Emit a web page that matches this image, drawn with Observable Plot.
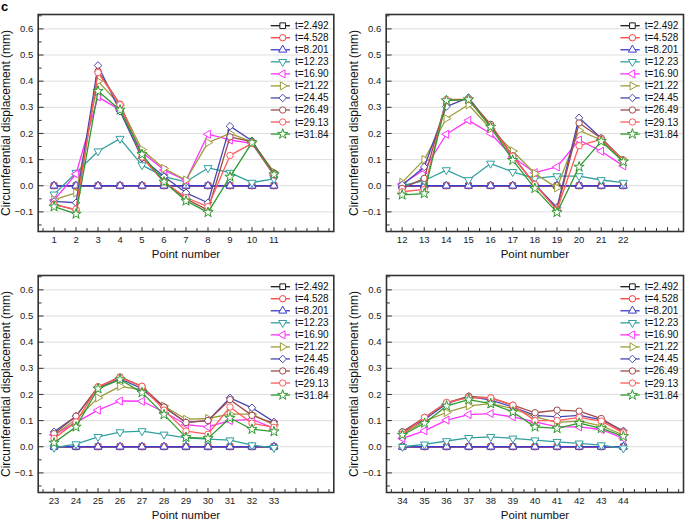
<!DOCTYPE html>
<html><head><meta charset="utf-8">
<script src="https://cdn.jsdelivr.net/npm/d3@7"></script>
<script src="https://cdn.jsdelivr.net/npm/@observablehq/plot@0.6"></script>
<style>
body{margin:0;background:#fff;}
#fig{position:relative;width:685px;height:523px;font-family:Arial,"Liberation Sans",sans-serif;overflow:hidden;}
.panel{position:absolute;}
#tag{position:absolute;left:1px;top:1px;font-weight:bold;font-size:13px;line-height:12px;color:#000;z-index:5;}
</style></head><body>
<div id="fig"><div id="tag">c</div></div>
<script>
// ---- series (legend) ----
const seriesNames = ["t=2.492","t=4.528","t=8.201","t=12.23","t=16.90","t=21.22","t=24.45","t=26.49","t=29.13","t=31.84"];

// ---- y tick labels ----
const yTickValues = [-0.1, 0.0, 0.1, 0.2, 0.3, 0.4, 0.5, 0.6];

// ---- panel 1: points 1..11 ----
const points1 = [1,2,3,4,5,6,7,8,9,10,11];
const values1 = [
  [0,0,0,0,0,0,0,0,0,0,0],
  [0,0,0,0,0,0,0,0,0,0,0],
  [0,0,0,0,0,0,0,0,0,0,0],
  [-0.033, 0.05, 0.132, 0.18, 0.079, 0.035, 0.015, 0.068, 0.05, 0.012, 0.026],
  [-0.055, 0.045, 0.34, 0.29, 0.128, 0.06, 0.02, 0.197, 0.175, 0.162, 0.04],
  [-0.053, -0.027, 0.40, 0.308, 0.138, 0.066, 0.022, 0.165, 0.2, 0.168, 0.052],
  [-0.06, -0.065, 0.46, 0.285, 0.105, 0.035, -0.027, -0.065, 0.228, 0.172, 0.043],
  [-0.07, -0.093, 0.438, 0.312, 0.11, 0.015, -0.05, -0.093, 0.187, 0.168, 0.048],
  [-0.073, -0.09, 0.433, 0.31, 0.11, 0.015, -0.045, -0.08, 0.116, 0.162, 0.043],
  [-0.08, -0.108, 0.362, 0.29, 0.12, 0.015, -0.058, -0.102, 0.034, 0.165, 0.043]
];

// ---- panel 2: points 12..22 ----
const points2 = [12,13,14,15,16,17,18,19,20,21,22];
const values2 = [
  [0,0,0,0,0,0,0,0,0,0,0],
  [0,0,0,0,0,0,0,0,0,0,0],
  [0,0,0,0,0,0,0,0,0,0,0],
  [0.0, 0.02, 0.06, 0.022, 0.085, 0.053, 0.028, 0.037, 0.037, 0.022, 0.012],
  [0.006, 0.062, 0.197, 0.25, 0.2, 0.11, 0.05, 0.072, 0.175, 0.132, 0.076],
  [0.013, 0.1, 0.257, 0.31, 0.218, 0.133, 0.047, -0.008, 0.212, 0.175, 0.098],
  [0.003, 0.072, 0.303, 0.337, 0.23, 0.113, 0.005, -0.083, 0.26, 0.182, 0.098],
  [-0.01, 0.028, 0.326, 0.33, 0.235, 0.113, 0.005, -0.09, 0.24, 0.182, 0.098],
  [-0.023, -0.014, 0.33, 0.33, 0.228, 0.113, 0.005, -0.093, 0.153, 0.177, 0.098],
  [-0.035, -0.03, 0.326, 0.33, 0.225, 0.098, -0.01, -0.102, 0.072, 0.17, 0.092]
];

// ---- panel 3: points 23..33 ----
const points3 = [23,24,25,26,27,28,29,30,31,32,33];
const values3 = [
  [0,0,0,0,0,0,0,0,0,0,0],
  [0,0,0,0,0,0,0,0,0,0,0],
  [0,0,0,0,0,0,0,0,0,0,0],
  [-0.003, 0.01, 0.038, 0.056, 0.06, 0.047, 0.034, 0.029, 0.025, 0.006, -0.004],
  [0.045, 0.093, 0.14, 0.175, 0.174, 0.133, 0.085, 0.076, 0.1, 0.105, 0.07],
  [0.045, 0.104, 0.187, 0.231, 0.218, 0.156, 0.105, 0.108, 0.125, 0.125, 0.083],
  [0.057, 0.117, 0.225, 0.26, 0.222, 0.152, 0.093, 0.1, 0.187, 0.149, 0.095],
  [0.05, 0.117, 0.229, 0.267, 0.231, 0.152, 0.093, 0.1, 0.18, 0.12, 0.089],
  [0.032, 0.095, 0.229, 0.264, 0.231, 0.14, 0.06, 0.048, 0.152, 0.09, 0.074],
  [0.015, 0.076, 0.222, 0.257, 0.207, 0.123, 0.036, 0.032, 0.11, 0.067, 0.058]
];

// ---- panel 4: points 34..44 ----
const points4 = [34,35,36,37,38,39,40,41,42,43,44];
const values4 = [
  [0,0,0,0,0,0,0,0,0,0,0],
  [0,0,0,0,0,0,0,0,0,0,0],
  [0,0,0,0,0,0,0,0,0,0,0],
  [0.0, 0.009, 0.022, 0.034, 0.038, 0.032, 0.025, 0.019, 0.013, 0.006, -0.006],
  [0.032, 0.061, 0.102, 0.123, 0.127, 0.114, 0.095, 0.076, 0.076, 0.066, 0.032],
  [0.048, 0.098, 0.131, 0.156, 0.165, 0.146, 0.114, 0.093, 0.098, 0.08, 0.045],
  [0.057, 0.104, 0.165, 0.193, 0.178, 0.152, 0.12, 0.114, 0.12, 0.104, 0.061],
  [0.057, 0.112, 0.169, 0.193, 0.187, 0.159, 0.13, 0.14, 0.136, 0.108, 0.057],
  [0.048, 0.112, 0.169, 0.188, 0.187, 0.159, 0.1, 0.1, 0.112, 0.098, 0.053],
  [0.045, 0.09, 0.156, 0.18, 0.165, 0.133, 0.076, 0.07, 0.09, 0.07, 0.04]
];

// ---- styles ----
const colors = ["#1a1a1a","#ff3b3b","#3a3acc","#33a0a0","#ff33ff","#9c9c3a","#4848b0","#a04a4a","#ff5c5c","#2f9a2f"];
const sq3 = Math.sqrt(3);
const triDown = {draw(c, size){ const y = -Math.sqrt(size/(sq3*3)); c.moveTo(0,-y*2); c.lineTo(-sq3*y, y); c.lineTo(sq3*y, y); c.closePath(); }};
const triLeft = {draw(c, size){ const y = -Math.sqrt(size/(sq3*3)); c.moveTo(y*2,0); c.lineTo(-y, -sq3*y); c.lineTo(-y, sq3*y); c.closePath(); }};
const triRight = {draw(c, size){ const y = -Math.sqrt(size/(sq3*3)); c.moveTo(-y*2,0); c.lineTo(y, -sq3*y); c.lineTo(y, sq3*y); c.closePath(); }};
const symbols = [d3.symbolSquare, d3.symbolCircle, d3.symbolTriangle, triDown, triLeft, triRight, d3.symbolDiamond2, d3.symbolCircle, d3.symbolCircle, d3.symbolStar];
const symR = [3.2, 3.2, 3.0, 3.0, 3.0, 3.0, 3.4, 3.2, 3.2, 3.2];
const tickShape = {draw(c, l){ c.moveTo(0,0); c.lineTo(0,-l); }};
const FONT = "Arial, 'Liberation Sans', sans-serif";

function legendMark(index, scales, values, dims) {
  const g = d3.create("svg:g");
  const xr = dims.width - dims.marginRight;
  const yt = dims.marginTop;
  seriesNames.forEach((s, i) => {
    const y = yt + 11.7 + i * 12.04;
    g.append("line").attr("x1", xr - 62.6).attr("x2", xr - 43.3).attr("y1", y).attr("y2", y)
      .attr("stroke", colors[i]).attr("stroke-width", 1.3);
    g.append("path").attr("transform", `translate(${xr - 50.6},${y})`)
      .attr("d", d3.symbol(symbols[i], Math.PI * symR[i] * symR[i])())
      .attr("fill", "white").attr("stroke", colors[i]).attr("stroke-width", 1);
    g.append("text").attr("x", xr - 38.3).attr("y", y).attr("dy", "0.35em")
      .attr("text-anchor", "start")
      .attr("font-size", 10).attr("fill", "#111").attr("font-family", FONT).text(s);
  });
  return g.node();
}

function panel(points, values, pos) {
  const x0 = points[0] - 0.72, x1 = points[points.length - 1] + 2.72;
  const xMajor = d3.range(Math.ceil(x0), Math.floor(x1) + 1);
  const xMinor = d3.range(Math.ceil(x0 - 0.5) + 0.5, x1, 1);
  const yDomain = [-0.175, 0.655];
  const yMinor = d3.range(-0.15, 0.66, 0.1).map(v => Math.round(v * 100) / 100);

  const marks = [
    Plot.ruleY(yTickValues, {stroke: "#dedede", strokeWidth: 1})
  ];
  seriesNames.forEach((s, i) => {
    const d = points.map((p, j) => ({p, v: values[i][j]}));
    marks.push(Plot.line(d, {x: "p", y: "v", stroke: colors[i], strokeWidth: 1.3}));
    marks.push(Plot.dot(d, {x: "p", y: "v", stroke: colors[i], fill: "white", symbol: symbols[i], r: symR[i], strokeWidth: 1}));
  });
  marks.push(
    Plot.vector(yTickValues, {y: d => d, frameAnchor: "left", length: 5, rotate: 90, anchor: "start", shape: tickShape, stroke: "#333", strokeWidth: 1}),
    Plot.vector(yMinor, {y: d => d, frameAnchor: "left", length: 3, rotate: 90, anchor: "start", shape: tickShape, stroke: "#333", strokeWidth: 1}),
    Plot.vector(xMajor, {x: d => d, frameAnchor: "bottom", length: 4, rotate: 0, anchor: "start", shape: tickShape, stroke: "#333", strokeWidth: 1}),
    Plot.vector(xMinor, {x: d => d, frameAnchor: "bottom", length: 3, rotate: 0, anchor: "start", shape: tickShape, stroke: "#333", strokeWidth: 1}),
    Plot.frame({stroke: "#333", strokeWidth: 1.6}),
    legendMark,
    Plot.text(["Circumferential displacement (mm)"], {text: d => d, frameAnchor: "left", textAnchor: "middle", rotate: -90, dx: -32, fontSize: 12, fill: "#111"}),
    Plot.text(["Point number"], {text: d => d, frameAnchor: "bottom", textAnchor: "middle", dy: 26, fontSize: 11.5, fill: "#111"})
  );

  const chart = Plot.plot({
    width: pos.width, height: pos.height,
    marginLeft: pos.ml, marginRight: pos.mr, marginTop: pos.mt, marginBottom: pos.mb,
    x: {domain: [x0, x1], ticks: points, tickFormat: d => String(d), tickSize: 0, tickPadding: 5, label: null},
    y: {domain: yDomain, ticks: yTickValues, tickFormat: ".1f", tickSize: 0, tickPadding: 5, label: null},
    style: {fontFamily: FONT, fontSize: "9.5px", color: "#222", background: "transparent", overflow: "visible"},
    marks
  });
  chart.classList.add("panel");
  chart.style.left = pos.left + "px";
  chart.style.top = pos.top + "px";
  document.getElementById("fig").appendChild(chart);
}

panel(points1, values1, {left: 0, top: 0, width: 340, height: 260, ml: 37.7, mr: 6.7, mt: 14, mb: 29});
panel(points2, values2, {left: 340, top: 0, width: 345, height: 260, ml: 45.7, mr: 2, mt: 14, mb: 29});
panel(points3, values3, {left: 0, top: 260, width: 340, height: 263, ml: 37.7, mr: 6.7, mt: 15, mb: 31});
panel(points4, values4, {left: 340, top: 260, width: 345, height: 263, ml: 46, mr: 2, mt: 15, mb: 31});
document.getElementById("fig").appendChild(document.getElementById("tag"));
</script>
</body></html>
